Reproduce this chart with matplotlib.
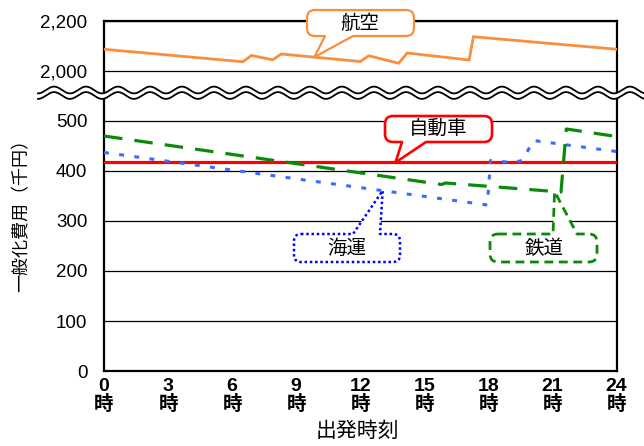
import numpy as np
import matplotlib
matplotlib.use("Agg")
import matplotlib.pyplot as plt
from matplotlib.path import Path
from matplotlib.patches import PathPatch, Polygon
from matplotlib.lines import Line2D
from matplotlib.ticker import FuncFormatter

plt.rcParams['font.family'] = ['Liberation Sans', 'Noto Sans CJK JP', 'DejaVu Sans']

# Generalised cost (thousand yen) by departure hour, for each transport mode
air_hours = [0, 6.5, 6.9, 7.9, 8.3, 12.0, 12.4, 13.8, 14.2, 17.1, 17.3, 24]
air_cost = [2087, 2037, 2062, 2045, 2068, 2038, 2061, 2031, 2072, 2044, 2137, 2087]

car_hours = [0, 24]
car_cost = [417, 417]

sea_hours = [0, 17.95, 18.1, 19.1, 19.6, 20.1, 24]
sea_cost = [437, 332, 421, 417, 421, 461, 439]

rail_hours = [0, 15.8, 16.0, 21.4, 21.65, 24]
rail_cost = [470, 373, 376, 358, 484, 469]

x_ticks = [0, 3, 6, 9, 12, 15, 18, 21, 24]
x_labels = [f"{h}\n時" for h in x_ticks]
lower_ticks = [0, 100, 200, 300, 400, 500]
upper_ticks = [2000, 2200]

W, H = 644, 446
fig = plt.figure(figsize=(W / 100, H / 100), dpi=100)

left_px, right_px = 104, 616.5
top_px, break_px, bottom_px = 21, 93, 371

def fig_rect(x0, y0, x1, y1):
    return [x0 / W, 1 - y1 / H, (x1 - x0) / W, (y1 - y0) / H]

ax_hi = fig.add_axes(fig_rect(left_px, top_px, right_px, break_px))
ax_lo = fig.add_axes(fig_rect(left_px, break_px, right_px, bottom_px))

orange = '#F98E3F'
red = '#FF0000'
sea_blue = '#3A6BFF'
dark_blue = '#0000FF'
green = '#0A8A0A'

ax_hi.plot(air_hours, air_cost, color=orange, lw=2.0, solid_joinstyle='miter', zorder=3)
ax_lo.plot(car_hours, car_cost, color=red, lw=2.3, zorder=3)
ax_lo.plot(sea_hours, sea_cost, color=sea_blue, lw=2.2, linestyle=(0, (1.6, 3.4)), zorder=3)
ax_lo.plot(rail_hours, rail_cost, color=green, lw=2.3, linestyle=(0, (5.8, 3.8)), zorder=3)

comma = FuncFormatter(lambda v, p: f"{int(v):,}")
for ax in (ax_hi, ax_lo):
    ax.set_xlim(0, 24)
    ax.set_xticks(x_ticks)
    ax.yaxis.grid(True, color='black', lw=0.9)
    ax.set_axisbelow(True)
    ax.tick_params(axis='both', length=0)
    ax.tick_params(axis='y', pad=12, labelsize=13.5)
    ax.yaxis.set_major_formatter(comma)
    for s in ('left', 'right', 'bottom', 'top'):
        ax.spines[s].set_linewidth(1.6)
        ax.spines[s].set_color('black')

ax_hi.set_ylim(1912, 2200)
ax_hi.set_yticks(upper_ticks)
ax_hi.spines['bottom'].set_visible(False)
ax_hi.tick_params(axis='x', labelbottom=False)

ax_lo.set_ylim(0, 556)
ax_lo.set_yticks(lower_ticks)
ax_lo.spines['top'].set_visible(False)
ax_lo.set_xticklabels(x_labels, fontsize=14, fontweight='bold', linespacing=1.0)
ax_lo.tick_params(axis='x', pad=5)

fig.text(357 / W, 1 - 431 / H, '出発時刻', ha='center', va='center', fontsize=15)
fig.text(22 / W, 1 - 211 / H, '一般化費用（千円）', ha='center', va='center',
         rotation=90, fontsize=13)

# Axis-break symbol: two wavy lines with white between them
wx = np.linspace(38, W, 900)
wy1 = 90 + 3.4 * np.sin(2 * np.pi * (wx - 30) / 32)
wy2 = wy1 + 5.5
band = np.concatenate([np.column_stack([wx, wy1]), np.column_stack([wx[::-1], wy2[::-1]])])
band_fig = np.column_stack([band[:, 0] / W, 1 - band[:, 1] / H])
fig.add_artist(Polygon(band_fig, closed=True, facecolor='white', edgecolor='none',
                       transform=fig.transFigure, zorder=5))
for wy in (wy1, wy2):
    fig.add_artist(Line2D(wx / W, 1 - wy / H, color='black', lw=1.3,
                          transform=fig.transFigure, zorder=6))


def data_to_px(ax, x, y):
    dx, dy = ax.transData.transform((x, y))
    fx, fy = fig.transFigure.inverted().transform((dx, dy))
    return fx * W, (1 - fy) * H


def callout(box, r, side, base, tip, text, text_xy, color, lw, ls, fs=14):
    x0, y0, x1, y1 = box
    xa, xb = base
    verts, codes = [], []

    def move(p):
        verts.append(p); codes.append(Path.MOVETO)

    def line(p):
        verts.append(p); codes.append(Path.LINETO)

    def corner(c, p):
        verts.extend([c, p]); codes.extend([Path.CURVE3, Path.CURVE3])

    move((x0 + r, y0))
    if side == 'top':
        line((xa, y0)); line(tip); line((xb, y0))
    line((x1 - r, y0))
    corner((x1, y0), (x1, y0 + r))
    line((x1, y1 - r))
    corner((x1, y1), (x1 - r, y1))
    if side == 'bottom':
        line((xb, y1)); line(tip); line((xa, y1))
    line((x0 + r, y1))
    corner((x0, y1), (x0, y1 - r))
    line((x0, y0 + r))
    corner((x0, y0), (x0 + r, y0))
    verts.append((x0 + r, y0)); codes.append(Path.CLOSEPOLY)

    v = np.array(verts, dtype=float)
    v = np.column_stack([v[:, 0] / W, 1 - v[:, 1] / H])
    patch = PathPatch(Path(v, codes), facecolor='white', edgecolor=color, lw=lw,
                      linestyle=ls, transform=fig.transFigure, zorder=8,
                      joinstyle='round')
    fig.add_artist(patch)
    fig.text(text_xy[0] / W, 1 - text_xy[1] / H, text, ha='center', va='center',
             fontsize=fs, zorder=9)


air_tip_h = 9.85
callout((307, 10, 414, 36), 8, 'bottom', (325, 353),
        data_to_px(ax_hi, air_tip_h, np.interp(air_tip_h, air_hours, air_cost)),
        '航空', (360, 24), orange, 1.6, 'solid')

car_tip_h = 13.65
callout((385, 116, 492, 142), 8, 'bottom', (402, 426),
        data_to_px(ax_lo, car_tip_h, np.interp(car_tip_h, car_hours, car_cost)),
        '自動車', (438, 129), red, 1.9, 'solid')

sea_tip_h = 13.05
callout((294, 234, 400, 262), 7, 'top', (353, 380),
        data_to_px(ax_lo, sea_tip_h, np.interp(sea_tip_h, sea_hours, sea_cost)),
        '海運', (347, 249), dark_blue, 1.8, (0, (1, 1.1)))

rail_tip_h = 21.1
callout((490, 234, 597, 262), 8, 'top', (553, 577),
        data_to_px(ax_lo, rail_tip_h, np.interp(rail_tip_h, rail_hours, rail_cost)),
        '鉄道', (544, 249), green, 2.0, (0, (3.2, 2.0)))

fig.savefig('out.png', dpi=100)
